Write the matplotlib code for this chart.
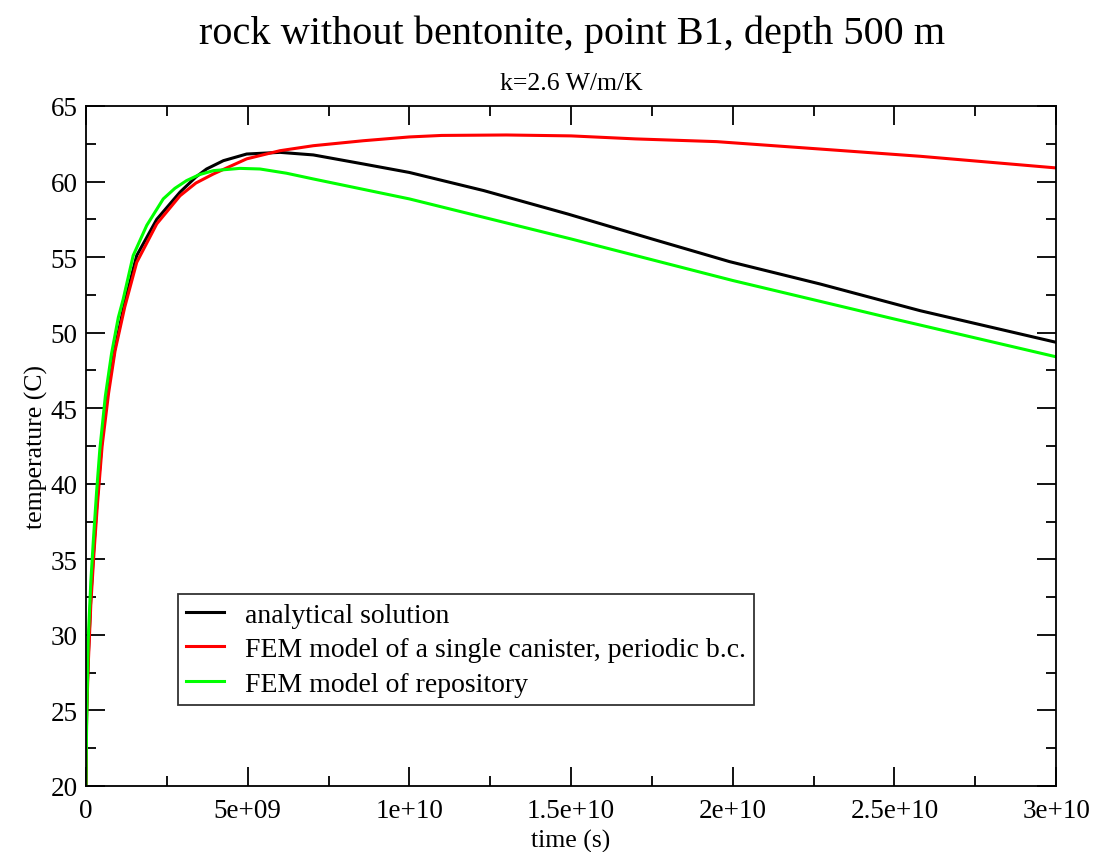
import numpy as np
import matplotlib
matplotlib.use('Agg')
import matplotlib.pyplot as plt
from matplotlib.ticker import MultipleLocator, FixedLocator, FixedFormatter

plt.rcParams['font.family'] = ['Liberation Serif', 'DejaVu Serif']

# time in units of 1e9 s
t_black = [0, 0.02, 0.07, 0.15, 0.25, 0.35, 0.5, 0.7, 0.9, 1.2, 1.57, 2.19, 2.91, 3.4, 3.73,
           4.25, 4.97, 6.0, 7.03, 8.58, 10.0, 12.3, 14.9, 17.5, 19.9, 22.7, 25.8, 30.0]
T_black = [20, 25, 28.5, 32.5, 36, 39, 43, 46.5, 49, 52, 55.1, 57.5, 59.3, 60.3, 60.83,
           61.38, 61.82, 61.93, 61.76, 61.16, 60.6, 59.4, 57.85, 56.2, 54.7, 53.22, 51.45, 49.36]

t_red = [0, 0.02, 0.07, 0.15, 0.25, 0.35, 0.5, 0.7, 0.9, 1.2, 1.57, 2.19, 2.91, 3.4, 3.94,
         4.97, 6.0, 7.03, 8.58, 10.0, 11.0, 13.0, 15.0, 17.0, 19.5, 22.7, 25.8, 30.0]
T_red = [20, 24.5, 28, 32, 35.5, 38.5, 42.5, 46, 48.8, 51.7, 54.65, 57.2, 59.06, 59.9, 60.5,
         61.5, 62.04, 62.37, 62.7, 62.95, 63.05, 63.08, 63.02, 62.82, 62.64, 62.15, 61.67, 60.9]

t_green = [0, 0.02, 0.07, 0.15, 0.23, 0.33, 0.43, 0.6, 0.79, 1.0, 1.15, 1.46, 1.88, 2.39,
           2.75, 3.11, 3.5, 3.94, 4.76, 5.38, 6.2, 7.03, 10.0, 15.0, 20.0, 25.0, 30.0]
T_green = [20, 24, 29.7, 33.5, 36.3, 39.5, 42.3, 45.8, 48.6, 51, 52.2, 55.1, 57.1, 58.85,
           59.55, 60.06, 60.45, 60.72, 60.87, 60.83, 60.55, 60.17, 58.85, 56.2, 53.45, 50.9, 48.4]

labels = ['analytical solution',
          'FEM model of a single canister, periodic b.c.',
          'FEM model of repository']

xticks = [0, 5e9, 1e10, 1.5e10, 2e10, 2.5e10, 3e10]
xticklabels = ['0', '5e+09', '1e+10', '1.5e+10', '2e+10', '2.5e+10', '3e+10']

fig = plt.figure(figsize=(10.95, 8.53), dpi=100)
ax = fig.add_axes([0.0785, 0.0774, 0.886, 0.7972])

ax.plot(np.array(t_black) * 1e9, T_black, color='black', lw=2.2, label=labels[0])
ax.plot(np.array(t_red) * 1e9, T_red, color='#ff0000', lw=2.2, label=labels[1])
ax.plot(np.array(t_green) * 1e9, T_green, color='#00ff00', lw=2.2, label=labels[2])

ax.set_xlim(0, 3e10)
ax.set_ylim(20, 65)
ax.xaxis.set_major_locator(FixedLocator(xticks))
ax.xaxis.set_major_formatter(FixedFormatter(xticklabels))
ax.xaxis.set_minor_locator(MultipleLocator(2.5e9))
ax.yaxis.set_major_locator(MultipleLocator(5))
ax.yaxis.set_minor_locator(MultipleLocator(2.5))

ax.tick_params(which='both', direction='in', top=True, right=True, width=1.3, labelsize=19.5)
ax.tick_params(which='major', length=13.5, pad=6)
ax.tick_params(axis='x', which='major', pad=9)
ax.tick_params(which='minor', length=7)
for s in ax.spines.values():
    s.set_linewidth(1.3)

ax.set_xlabel('time (s)', fontsize=18.5, labelpad=4)
ax.set_ylabel('temperature (C)', fontsize=18.5, labelpad=2)

fig.text(0.522, 0.960, 'rock without bentonite, point B1, depth 500 m', ha='center', va='center', fontsize=29)
fig.text(0.522, 0.901, 'k=2.6 W/m/K', ha='center', va='center', fontsize=18.5)

leg = ax.legend(loc='lower left', bbox_to_anchor=(0.0948, 0.119), borderaxespad=0, fontsize=20,
                frameon=True, fancybox=False, edgecolor='black', handlelength=1.35,
                handletextpad=0.75, labelspacing=0.33, borderpad=0.3)
leg.get_frame().set_linewidth(1.3)

fig.savefig('out.png', dpi=100)
